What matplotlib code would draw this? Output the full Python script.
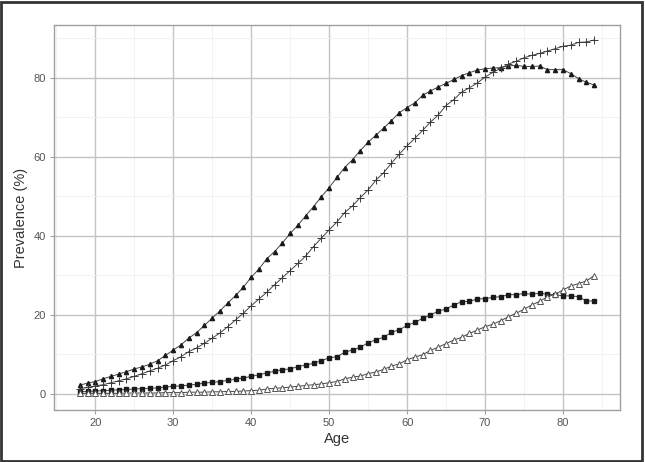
import matplotlib.pyplot as plt
import numpy as np
from matplotlib.patches import Rectangle
from matplotlib.ticker import MultipleLocator

plt.rcParams["font.family"] = ["Liberation Sans", "DejaVu Sans"]

ages = np.arange(18, 85)

# filled triangles
series_a = [2.2, 2.7, 3.1, 3.8, 4.4, 5.0, 5.6, 6.3, 6.8, 7.5, 8.4, 9.7,
            11.1, 12.4, 14.1, 15.5, 17.3, 19.2, 21.0, 23.0, 24.9, 27.0,
            29.5, 31.6, 34.2, 36.0, 38.2, 40.6, 42.7, 45.1, 47.4, 49.9,
            52.2, 54.8, 57.3, 59.3, 61.6, 63.7, 65.5, 67.3, 69.2, 71.2,
            72.5, 73.7, 75.6, 76.7, 77.7, 78.6, 79.6, 80.6, 81.3, 82.0,
            82.3, 82.5, 82.6, 83.0, 83.2, 82.9, 82.9, 83.0, 82.1, 82.1,
            82.1, 81.1, 79.8, 78.9, 78.2]
# plus markers
series_b = [1.3, 1.6, 2.0, 2.3, 2.8, 3.3, 3.8, 4.4, 5.1, 5.8, 6.5, 7.3,
            8.4, 9.4, 10.7, 11.6, 12.8, 14.1, 15.4, 17.0, 18.7, 20.4,
            22.3, 24.0, 25.7, 27.6, 29.4, 31.2, 33.0, 34.9, 37.3, 39.4,
            41.5, 43.5, 45.9, 47.6, 49.7, 51.6, 54.1, 56.0, 58.4, 60.7,
            62.8, 64.7, 66.7, 68.8, 70.6, 73.0, 74.5, 76.4, 77.5, 78.7,
            80.2, 81.4, 82.4, 83.5, 84.2, 85.1, 85.7, 86.2, 86.8, 87.4,
            88.0, 88.3, 89.0, 89.1, 89.6]
# filled squares
series_c = [0.5, 0.6, 0.7, 0.8, 0.9, 1.0, 1.1, 1.2, 1.3, 1.4, 1.5, 1.7,
            1.9, 2.0, 2.2, 2.4, 2.7, 2.9, 3.1, 3.4, 3.7, 4.0, 4.4, 4.8,
            5.3, 5.7, 6.1, 6.3, 6.9, 7.3, 7.7, 8.4, 9.1, 9.4, 10.5, 11.1,
            11.8, 12.9, 13.7, 14.3, 15.6, 16.2, 17.3, 18.1, 19.1, 20.0,
            20.9, 21.5, 22.5, 23.3, 23.4, 24.0, 24.1, 24.4, 24.6, 25.1,
            25.1, 25.4, 25.2, 25.5, 25.2, 25.1, 24.8, 24.8, 24.6, 23.5,
            23.5]
# open triangles
series_d = [0.1, 0.1, 0.1, 0.1, 0.1, 0.1, 0.2, 0.2, 0.2, 0.2, 0.2, 0.3,
            0.3, 0.3, 0.4, 0.4, 0.4, 0.5, 0.5, 0.6, 0.6, 0.7, 0.8, 0.9,
            1.2, 1.4, 1.5, 1.7, 1.9, 2.1, 2.3, 2.5, 2.8, 3.1, 3.8, 4.2,
            4.5, 5.1, 5.5, 6.2, 7.0, 7.6, 8.6, 9.3, 9.9, 11.0, 11.8, 12.7,
            13.6, 14.3, 15.3, 16.1, 17.0, 17.6, 18.5, 19.5, 20.4, 21.4,
            22.5, 23.4, 24.6, 25.2, 26.3, 27.3, 27.9, 28.6, 29.9]

fig = plt.figure(figsize=(6.45, 4.62), dpi=100)
ax = fig.add_axes([0.0837, 0.1126, 0.8773, 0.8333])

line_kw = dict(color="#444444", linewidth=0.7)
ax.plot(ages, series_a, marker="^", markersize=3, markerfacecolor="#1a1a1a",
        markeredgecolor="#1a1a1a", **line_kw)
ax.plot(ages, series_b, marker="+", markersize=5.5, markeredgewidth=0.7,
        markeredgecolor="#3a3a3a", **line_kw)
ax.plot(ages, series_c, marker="s", markersize=3, markerfacecolor="#1a1a1a",
        markeredgecolor="#1a1a1a", **line_kw)
ax.plot(ages, series_d, marker="^", markersize=4.5, markerfacecolor="white",
        markeredgecolor="#555555", markeredgewidth=0.7, **line_kw)

ax.set_xlim(14.7, 87.3)
ax.set_ylim(-4.1, 93.4)
ax.xaxis.set_major_locator(MultipleLocator(10))
ax.xaxis.set_minor_locator(MultipleLocator(5))
ax.yaxis.set_major_locator(MultipleLocator(20))
ax.yaxis.set_minor_locator(MultipleLocator(10))

ax.grid(which="major", color="#c4c4c4", linewidth=1.0)
ax.grid(which="minor", color="#f0f0f0", linewidth=0.6)
ax.set_axisbelow(True)
for s in ax.spines.values():
    s.set_color("#a0a0a0")
    s.set_linewidth(1.0)

ax.tick_params(which="major", length=3, width=0.8, color="#a0a0a0",
               labelsize=8, labelcolor="#555555", pad=3)
ax.tick_params(which="minor", length=0)

ax.set_xlabel("Age", fontsize=10.5, color="#333333", labelpad=3)
ax.set_ylabel("Prevalence (%)", fontsize=10.5, color="#333333", labelpad=4)

fig.patches.append(Rectangle((0.002, 0.002), 0.993, 0.994, transform=fig.transFigure,
                             fill=False, edgecolor="#333333", linewidth=2.0))

fig.savefig("out.png", dpi=100)
